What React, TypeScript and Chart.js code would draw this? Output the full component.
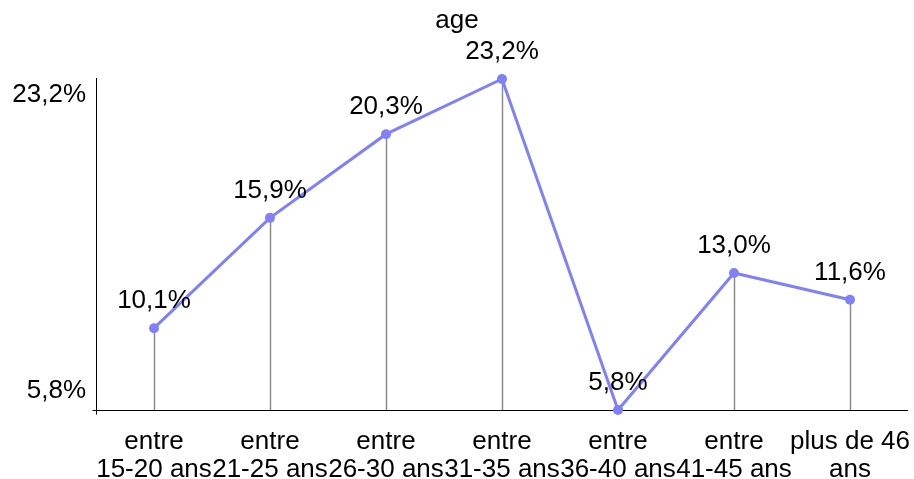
import React, { useEffect, useRef } from "react";
import { Chart, registerables } from "chart.js";

Chart.register(...registerables);

const chartTitle = "age";
const categories: string[][] = [
  ["entre", "15-20 ans"],
  ["entre", "21-25 ans"],
  ["entre", "26-30 ans"],
  ["entre", "31-35 ans"],
  ["entre", "36-40 ans"],
  ["entre", "41-45 ans"],
  ["plus de 46", "ans"],
];
const values: number[] = [10.1, 15.9, 20.3, 23.2, 5.8, 13.0, 11.6];
const yTickValues: number[] = [5.8, 23.2];
const yMin = 5.8;
const yMax = 23.2;

const FONT_FAMILY = '"Liberation Sans", Arial, sans-serif';
const FONT_SIZE = 26;
const fmt = (v: number) => v.toFixed(1).replace(".", ",") + "%";

const overlayPlugin = {
  id: "overlay",
  beforeDatasetsDraw(chart: any) {
    const { ctx, chartArea, scales } = chart;
    const x = scales.x;
    const y = scales.y;
    const meta = chart.getDatasetMeta(0);
    ctx.save();
    // drop lines
    ctx.strokeStyle = "#8c8c8c";
    ctx.lineWidth = 1.5;
    meta.data.forEach((pt: any) => {
      ctx.beginPath();
      ctx.moveTo(Math.round(pt.x) + 0.5, pt.y);
      ctx.lineTo(Math.round(pt.x) + 0.5, chartArea.bottom);
      ctx.stroke();
    });
    // axes
    ctx.strokeStyle = "#000000";
    ctx.lineWidth = 1;
    const bottom = Math.round(y.getPixelForValue(yMin)) + 0.5;
    const left = Math.round(chartArea.left) + 0.5;
    ctx.beginPath();
    ctx.moveTo(left, Math.round(chartArea.top) - 1);
    ctx.lineTo(left, bottom + 4);
    ctx.stroke();
    ctx.beginPath();
    ctx.moveTo(left - 4, bottom);
    ctx.lineTo(x.right, bottom);
    ctx.stroke();
    ctx.restore();
  },
  afterDatasetsDraw(chart: any) {
    const { ctx, scales, width } = chart;
    const y = scales.y;
    const meta = chart.getDatasetMeta(0);
    ctx.save();
    ctx.fillStyle = "#000000";
    ctx.font = `${FONT_SIZE}px ${FONT_FAMILY}`;
    ctx.textBaseline = "alphabetic";
    // data labels
    ctx.textAlign = "center";
    meta.data.forEach((pt: any, i: number) => {
      ctx.fillText(fmt(values[i]), pt.x, pt.y - 20);
    });
    // y tick labels
    ctx.textAlign = "right";
    yTickValues.forEach((v) => {
      const py = y.getPixelForValue(v);
      const by = v === yMax ? py + 23 : py - 12;
      ctx.fillText(fmt(v), chart.chartArea.left - 10, by);
    });
    // title
    ctx.textAlign = "center";
    ctx.fillText(chartTitle, width / 2, 28);
    ctx.restore();
  },
};

export default function App() {
  const canvasRef = useRef<HTMLCanvasElement | null>(null);

  useEffect(() => {
    if (!canvasRef.current) return;
    const chart = new Chart(canvasRef.current, {
      type: "line",
      data: {
        labels: categories,
        datasets: [
          {
            label: chartTitle,
            data: values,
            borderColor: "#8080f8",
            backgroundColor: "#8080f8",
            pointBackgroundColor: "#8080f8",
            pointBorderColor: "#8080f8",
            borderWidth: 3,
            pointRadius: 5,
            pointBorderWidth: 0,
            tension: 0,
            clip: false as any,
          },
        ],
      },
      options: {
        animation: false,
        responsive: false,
        maintainAspectRatio: false,
        layout: { padding: { top: 79, right: 6, left: 0, bottom: 0 } },
        plugins: {
          legend: { display: false },
          title: { display: false },
          tooltip: { enabled: false },
        },
        scales: {
          x: {
            offset: true,
            grid: { display: false, drawTicks: false, tickLength: 0 },
            border: { display: false },
            ticks: {
              autoSkip: false,
              maxRotation: 0,
              minRotation: 0,
              padding: 18,
              color: "#000000",
              font: { family: FONT_FAMILY, size: FONT_SIZE, lineHeight: 1.08 },
            },
            afterFit(scale: any) {
              scale.height = 69;
              scale.paddingLeft = 0;
              scale.paddingRight = 0;
            },
          },
          y: {
            min: yMin,
            max: yMax,
            grid: { display: false, drawTicks: false, tickLength: 0 },
            border: { display: false },
            ticks: { display: false },
            afterBuildTicks(scale: any) {
              scale.ticks = yTickValues.map((v) => ({ value: v }));
            },
            afterFit(scale: any) {
              scale.width = 96;
              scale.paddingTop = 0;
              scale.paddingBottom = 0;
            },
          },
        },
      },
      plugins: [overlayPlugin],
    });
    return () => chart.destroy();
  }, []);

  return (
    <div style={{ position: "fixed", left: 0, top: 0, width: 914, height: 479, background: "#ffffff" }}>
      <canvas ref={canvasRef} width={914} height={479} style={{ width: 914, height: 479, display: "block" }} />
    </div>
  );
}
